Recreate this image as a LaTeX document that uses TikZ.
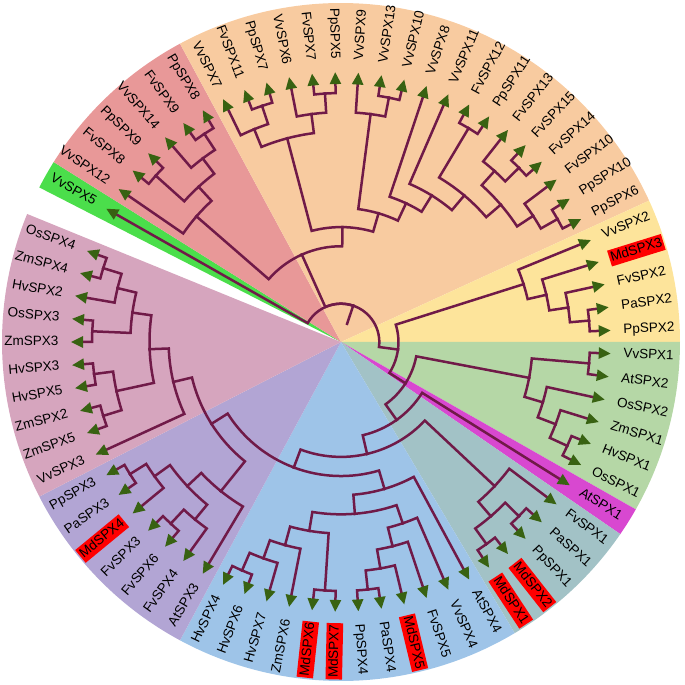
\documentclass[tikz,border=0pt]{standalone}
\usepackage{fontspec}
\setmainfont{Liberation Sans}
\usetikzlibrary{arrows.meta}

\definecolor{brc}{RGB}{112,26,72}
\definecolor{tipc}{RGB}{56,98,18}
\definecolor{cvv}{RGB}{75,222,75}
\definecolor{cred}{RGB}{232,152,152}
\definecolor{corange}{RGB}{248,203,160}
\definecolor{cyellow}{RGB}{253,228,155}
\definecolor{cgreen}{RGB}{181,215,166}
\definecolor{cmag}{RGB}{216,72,208}
\definecolor{cteal}{RGB}{162,194,198}
\definecolor{cblue}{RGB}{158,196,232}
\definecolor{cpurple}{RGB}{178,165,212}
\definecolor{cmauve}{RGB}{214,165,190}

% leaf i sits at 150.41 - 4.9315 i degrees, tip at r = 270
\newcommand\leaf[3][]{%
  \pgfmathsetmacro\nA{150.41-4.9315*#2}%
  \expandafter\xdef\csname ang#3\endcsname{\nA}%
  \expandafter\xdef\csname isleaf#3\endcsname{1}%
  \coordinate (#3) at (\nA:270pt);
  \ifdim\nA pt>90pt
    \node[lbl,#1,anchor=east,rotate=\nA+180] (l#3) at (\nA:281pt) {#3};
  \else\ifdim\nA pt<-90pt
    \node[lbl,#1,anchor=east,rotate=\nA+180] (l#3) at (\nA:281pt) {#3};
  \else
    \node[lbl,#1,anchor=west,rotate=\nA] (l#3) at (\nA:281pt) {#3};
  \fi\fi}

% branch from a clade node out to one child
\newcommand\edge[2]{%
  \edef\eA{\csname ang#1\endcsname}%
  \edef\eR{\csname rad#1\endcsname}%
  \edef\eC{\csname ang#2\endcsname}%
  \ifnum\csname isleaf#2\endcsname=1
    \draw[br,leafend] (#1) arc[start angle=\eA, end angle=\eC, radius=\eR pt] -- (#2);
  \else
    \draw[br] (#1) arc[start angle=\eA, end angle=\eC, radius=\eR pt] -- (#2);
  \fi}

% clade node: name, level, child, child
\newcommand\cl[4]{%
  \pgfmathsetmacro\nA{(\csname ang#3\endcsname+\csname ang#4\endcsname)/2}%
  \pgfmathsetmacro\nR{19.15*#2}%
  \expandafter\xdef\csname ang#1\endcsname{\nA}%
  \expandafter\xdef\csname rad#1\endcsname{\nR}%
  \expandafter\xdef\csname isleaf#1\endcsname{0}%
  \coordinate (#1) at (\nA:\nR pt);
  \edge{#1}{#3}\edge{#1}{#4}}

% coloured sector over leaves #2..#3
\newcommand\sector[3]{%
  \pgfmathsetmacro\sA{150.41-4.9315*(#2-0.5)}%
  \pgfmathsetmacro\sB{150.41-4.9315*(#3+0.5)}%
  \fill[#1] (0,0) -- (\sA:339pt) arc[start angle=\sA, end angle=\sB, radius=339pt] -- cycle;}

\begin{document}
\begin{tikzpicture}[
  br/.style={draw=brc, line width=2.5pt, line cap=rect},
  leafend/.style={-{Triangle[length=12pt,width=11pt,color=tipc]}},
  lbl/.style={font=\fontsize{13.5}{15}\selectfont, inner xsep=1.5pt, inner ysep=2pt,
              text height=10pt, text depth=2.5pt},
  md/.style={fill=red}
]
\useasboundingbox (-341pt,-343pt) rectangle (344pt,342pt);

% --- sectors ---
\sector{cvv}{0}{0}
\sector{cred}{1}{6}
\sector{corange}{7}{25}
\sector{cyellow}{26}{30}
\sector{cgreen}{31}{36}
\sector{cmag}{37}{37}
\sector{cteal}{38}{42}
\sector{cblue}{43}{54}
\sector{cpurple}{55}{61}
\sector{cmauve}{62}{71}

% --- leaves ---
\leaf{0}{VvSPX5}
\leaf{1}{VvSPX12}
\leaf{2}{FvSPX8}
\leaf{3}{PpSPX9}
\leaf{4}{VvSPX14}
\leaf{5}{FvSPX9}
\leaf{6}{PpSPX8}
\leaf{7}{VvSPX7}
\leaf{8}{FvSPX11}
\leaf{9}{PpSPX7}
\leaf{10}{VvSPX6}
\leaf{11}{FvSPX7}
\leaf{12}{PpSPX5}
\leaf{13}{VvSPX9}
\leaf{14}{VvSPX13}
\leaf{15}{VvSPX10}
\leaf{16}{VvSPX8}
\leaf{17}{VvSPX11}
\leaf{18}{FvSPX12}
\leaf{19}{PpSPX11}
\leaf{20}{FvSPX13}
\leaf{21}{FvSPX15}
\leaf{22}{FvSPX14}
\leaf{23}{FvSPX10}
\leaf{24}{PpSPX10}
\leaf{25}{PpSPX6}
\leaf{26}{VvSPX2}
\leaf[md]{27}{MdSPX3}
\leaf{28}{FvSPX2}
\leaf{29}{PaSPX2}
\leaf{30}{PpSPX2}
\leaf{31}{VvSPX1}
\leaf{32}{AtSPX2}
\leaf{33}{OsSPX2}
\leaf{34}{ZmSPX1}
\leaf{35}{HvSPX1}
\leaf{36}{OsSPX1}
\leaf{37}{AtSPX1}
\leaf{38}{FvSPX1}
\leaf{39}{PaSPX1}
\leaf{40}{PpSPX1}
\leaf[md]{41}{MdSPX2}
\leaf[md]{42}{MdSPX1}
\leaf{43}{AtSPX4}
\leaf{44}{VvSPX4}
\leaf{45}{FvSPX5}
\leaf[md]{46}{MdSPX5}
\leaf{47}{PaSPX4}
\leaf{48}{PpSPX4}
\leaf[md]{49}{MdSPX7}
\leaf[md]{50}{MdSPX6}
\leaf{51}{ZmSPX6}
\leaf{52}{HvSPX7}
\leaf{53}{HvSPX6}
\leaf{54}{HvSPX4}
\leaf{55}{AtSPX3}
\leaf{56}{FvSPX4}
\leaf{57}{FvSPX6}
\leaf{58}{FvSPX3}
\leaf[md]{59}{MdSPX4}
\leaf{60}{PaSPX3}
\leaf{61}{PpSPX3}
\leaf{62}{VvSPX3}
\leaf{63}{ZmSPX5}
\leaf{64}{ZmSPX2}
\leaf{65}{HvSPX5}
\leaf{66}{HvSPX3}
\leaf{67}{ZmSPX3}
\leaf{68}{OsSPX3}
\leaf{69}{HvSPX2}
\leaf{70}{ZmSPX4}
\leaf{71}{OsSPX4}

% --- red clade ---
\cl{A}{13}{FvSPX9}{PpSPX8}
\cl{B}{12}{VvSPX14}{A}
\cl{E}{13}{FvSPX8}{PpSPX9}
\cl{C}{11}{E}{B}
\cl{D}{10}{VvSPX12}{C}

% --- orange clade ---
\cl{I}{13}{FvSPX11}{PpSPX7}
\cl{J}{12}{VvSPX7}{I}
\cl{G}{13}{FvSPX7}{PpSPX5}
\cl{H}{12}{VvSPX6}{G}
\cl{O1}{11}{J}{H}
\cl{M}{13}{VvSPX13}{VvSPX10}
\cl{N}{12}{VvSPX9}{M}
\cl{S}{13}{FvSPX12}{PpSPX11}
\cl{V}{13}{FvSPX15}{FvSPX14}
\cl{U}{12}{FvSPX13}{V}
\cl{X}{13}{PpSPX10}{PpSPX6}
\cl{W}{12}{FvSPX10}{X}
\cl{T}{11}{U}{W}
\cl{R}{10}{S}{T}
\cl{P}{9}{VvSPX11}{R}
\cl{L}{8}{VvSPX8}{P}
\cl{K}{7}{N}{L}
\cl{O}{6}{O1}{K}
\cl{F}{5}{D}{O}

% --- yellow clade ---
\cl{YC}{13}{PaSPX2}{PpSPX2}
\cl{YB}{12}{FvSPX2}{YC}
\cl{YA}{11}{MdSPX3}{YB}
\cl{YR}{10}{VvSPX2}{YA}

% --- green clade ---
\cl{GA}{13}{VvSPX1}{AtSPX2}
\cl{GD}{13}{HvSPX1}{OsSPX1}
\cl{GC}{12}{ZmSPX1}{GD}
\cl{GB}{11}{OsSPX2}{GC}
\cl{GR}{10}{GA}{GB}

% --- grey clade ---
\cl{T3}{13}{PaSPX1}{PpSPX1}
\cl{T4}{13}{MdSPX2}{MdSPX1}
\cl{T2}{12}{T3}{T4}
\cl{TR}{11}{FvSPX1}{T2}

% --- blue clade ---
\cl{B1}{13}{PaSPX4}{PpSPX4}
\cl{B2}{12}{MdSPX5}{B1}
\cl{B3}{11}{FvSPX5}{B2}
\cl{B4}{10}{VvSPX4}{B3}
\cl{B10}{13}{MdSPX7}{MdSPX6}
\cl{B7}{13}{HvSPX6}{HvSPX4}
\cl{B8}{12}{HvSPX7}{B7}
\cl{B9}{11}{ZmSPX6}{B8}
\cl{B6}{10}{B10}{B9}
\cl{B5}{9}{B4}{B6}
\cl{BB}{8}{AtSPX4}{B5}

% --- purple clade ---
\cl{PA}{13}{PaSPX3}{PpSPX3}
\cl{PB}{12}{MdSPX4}{PA}
\cl{PD}{13}{FvSPX6}{FvSPX3}
\cl{PE}{12}{FvSPX4}{PD}
\cl{PC}{11}{PE}{PB}
\cl{P1}{10}{AtSPX3}{PC}

% --- mauve clade ---
\cl{MH2}{13}{ZmSPX5}{ZmSPX2}
\cl{MH1}{13}{HvSPX5}{HvSPX3}
\cl{MH}{12}{MH2}{MH1}
\cl{ZO}{13}{ZmSPX3}{OsSPX3}
\cl{MO1}{13}{ZmSPX4}{OsSPX4}
\cl{MO2}{12}{HvSPX2}{MO1}
\cl{MO3}{11}{ZO}{MO2}
\cl{MQ}{10}{MH}{MO3}
\cl{MR}{9}{VvSPX3}{MQ}

% --- backbone ---
\cl{PM}{8}{P1}{MR}
\cl{BX}{7}{BB}{PM}
\cl{Z3}{6}{TR}{BX}
\cl{Z2}{5}{AtSPX1}{Z3}
\cl{Z}{4}{GR}{Z2}
\cl{Y}{3}{YR}{Z}
\cl{root}{2}{VvSPX5}{Y}
\edge{root}{F}
\coordinate (stub) at (\csname angroot\endcsname:19.15pt);
\draw[br] (root) -- (stub);

\end{tikzpicture}
\end{document}
